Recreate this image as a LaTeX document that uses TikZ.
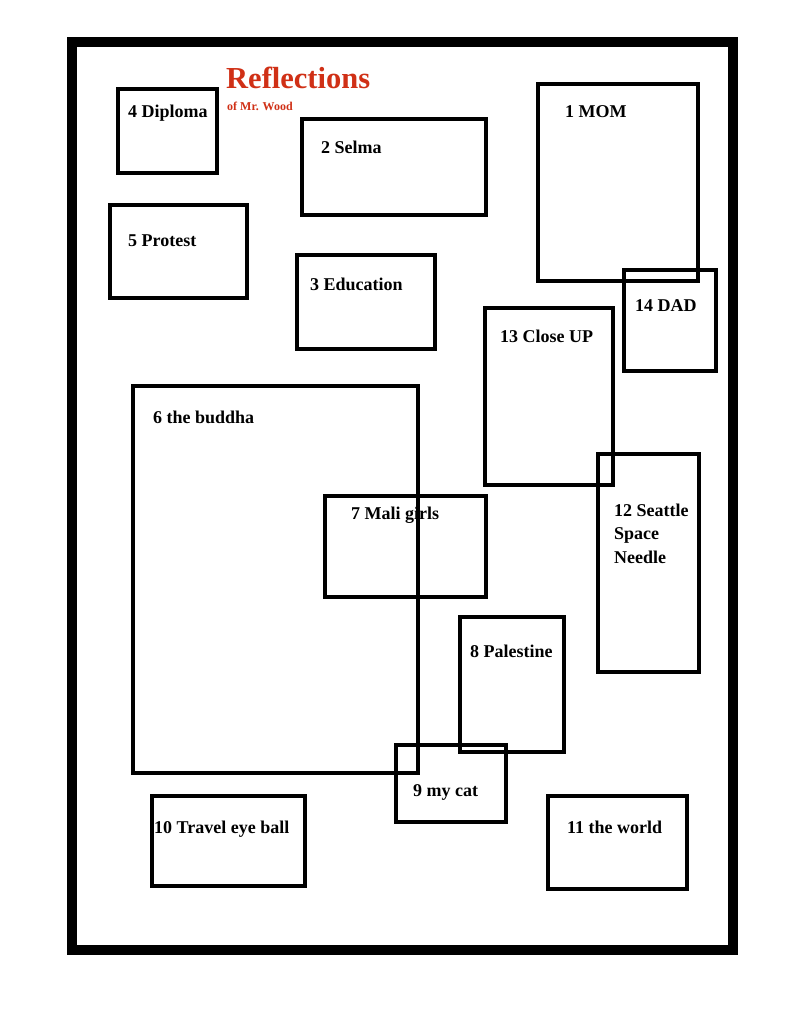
\documentclass[tikz,border=0pt]{standalone}
\usepackage{fontspec}
\setmainfont{Liberation Serif}
\definecolor{titlered}{RGB}{208,48,22}
\begin{document}
\begin{tikzpicture}[x=1pt,y=-1pt,
  box/.style={draw=black,line width=4pt,inner sep=0pt,outer sep=0pt},
  lbl/.style={anchor=base west,inner sep=0pt,font=\fontsize{18}{21}\selectfont\bfseries},
  frame/.style={draw=black,line width=10pt}]
\useasboundingbox (0,0) rectangle (791,1024);
\fill[white] (0,0) rectangle (791,1024);
\draw[frame] (72,42) rectangle (733,950);
% title
\node[anchor=base west,inner sep=0pt,text=titlered,font=\fontsize{30.5}{34}\selectfont\bfseries] (title) at (226,89) {Reflections};
\node[anchor=base west,inner sep=0pt,text=titlered,font=\fontsize{12}{14}\selectfont\bfseries] (sub) at (227,111) {of Mr. Wood};
% labels
\node[lbl] (t4) at (128,118) {4 Diploma};
\node[lbl] (t2) at (321,154) {2 Selma};
\node[lbl] (t1) at (565,118) {1 MOM};
\node[lbl] (t5) at (128,247) {5 Protest};
\node[lbl] (t3) at (310,290) {3 Education};
\node[lbl] (t14) at (635,311) {14 DAD};
\node[lbl] (t13) at (500,342) {13 Close UP};
\node[lbl] (t6) at (153,423) {6 the buddha};
\node[lbl] (t7) at (351,519) {7 Mali girls};
\node[lbl] (t12a) at (614,516) {12 Seattle};
\node[lbl] (t12b) at (614,539) {Space};
\node[lbl] (t12c) at (614,563) {Needle};
\node[lbl] (t8) at (470,657) {8 Palestine};
\node[lbl] (t9) at (413,796) {9 my cat};
\node[lbl] (t10) at (154,833) {10 Travel eye ball};
\node[lbl] (t11) at (567,833) {11 the world};
% boxes
\node[box,minimum width=99pt,minimum height=84pt] (b4) at (167.5,131) {};
\node[box,minimum width=184pt,minimum height=96pt] (b2) at (394,167) {};
\node[box,minimum width=137pt,minimum height=93pt] (b5) at (178.5,251.5) {};
\node[box,minimum width=138pt,minimum height=94pt] (b3) at (366,302) {};
\node[box,minimum width=160pt,minimum height=197pt] (b1) at (618,182.5) {};
\node[box,minimum width=92pt,minimum height=101pt] (b14) at (670,320.5) {};
\node[box,minimum width=128pt,minimum height=177pt] (b13) at (549,396.5) {};
\node[box,minimum width=285pt,minimum height=387pt] (b6) at (275.5,579.5) {};
\node[box,minimum width=161pt,minimum height=101pt] (b7) at (405.5,546.5) {};
\node[box,minimum width=101pt,minimum height=218pt] (b12) at (648.5,563) {};
\node[box,minimum width=104pt,minimum height=135pt] (b8) at (512,684.5) {};
\node[box,minimum width=110pt,minimum height=77pt] (b9) at (451,783.5) {};
\node[box,minimum width=153pt,minimum height=90pt] (b10) at (228.5,841) {};
\node[box,minimum width=139pt,minimum height=93pt] (b11) at (617.5,842.5) {};
\end{tikzpicture}
\end{document}
